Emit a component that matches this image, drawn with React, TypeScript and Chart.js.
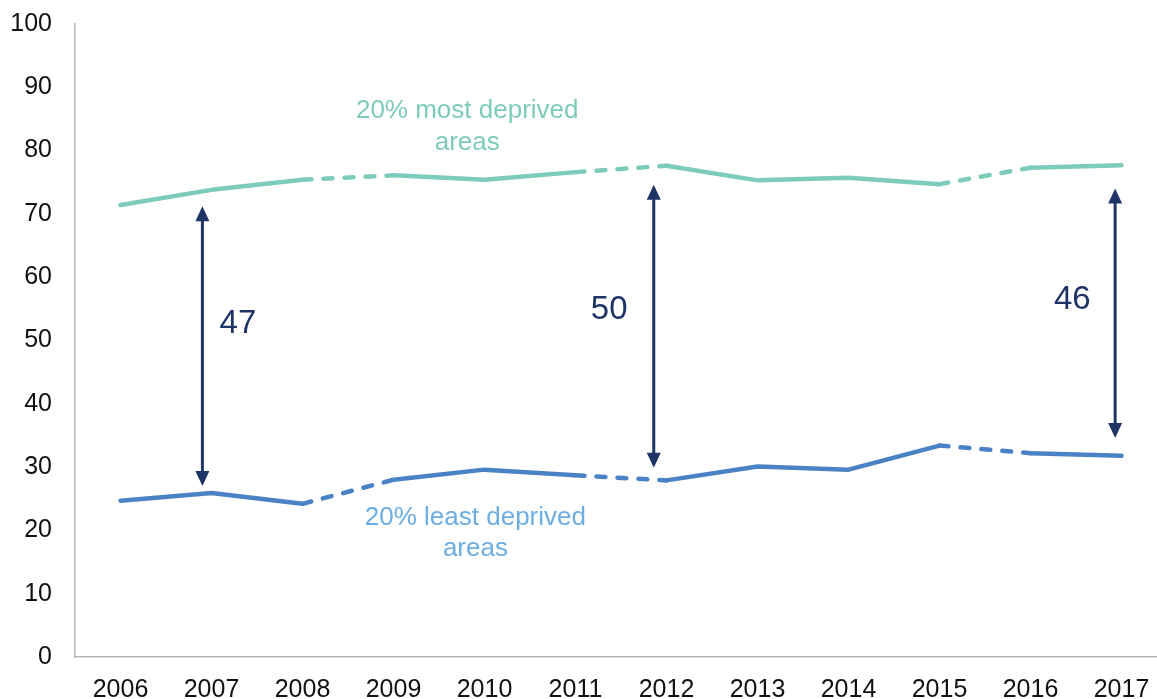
import React, { useEffect, useRef } from 'react';
import { Chart, registerables } from 'chart.js';

Chart.register(...registerables);

// ---- data ----
const years = [2006, 2007, 2008, 2009, 2010, 2011, 2012, 2013, 2014, 2015, 2016, 2017];
const mostDeprived = [71.4, 73.8, 75.4, 76.1, 75.4, 76.6, 77.6, 75.3, 75.7, 74.7, 77.3, 77.7];
const leastDeprived = [24.7, 25.9, 24.2, 28.0, 29.6, 28.7, 27.9, 30.1, 29.6, 33.4, 32.2, 31.8];
const dashedFromYears = [2008, 2011, 2015];
const yTickValues = [0, 10, 20, 30, 40, 50, 60, 70, 80, 90, 100];

const gapYears = [2006.9, 2011.86, 2016.93];
const gapTop = [71.2, 74.6, 74.0];
const gapBottom = [27.0, 29.9, 34.6];
const gapLabels = ['47', '50', '46'];
const gapLabelYears = [2007.29, 2011.37, 2016.46];
const gapLabelValues = [52.6, 54.9, 56.4];

const mostLabelLines = ['20% most deprived', 'areas'];
const mostLabelYear = 2009.81;
const mostLabelValues = [86.3, 81.2];
const leastLabelLines = ['20% least deprived', 'areas'];
const leastLabelYear = 2009.9;
const leastLabelValues = [22.0, 17.1];

const FONT = "'Liberation Sans', Arial, sans-serif";
const TEAL = '#7dcbbb';
const BLUE = '#4a83c5';
const NAVY = '#1f3466';
const TEAL_TEXT = '#7dcbbb';
const BLUE_TEXT = '#6cade2';

const annotationPlugin = {
  id: 'gapAnnotations',
  afterDatasetsDraw(chart: any) {
    const { ctx, scales } = chart;
    const x = scales.x;
    const y = scales.y;
    ctx.save();
    ctx.strokeStyle = NAVY;
    ctx.fillStyle = NAVY;
    ctx.lineWidth = 3;
    const headLen = 15;
    const headHalf = 7;
    gapYears.forEach((yr, i) => {
      const px = x.getPixelForValue(yr);
      const top = y.getPixelForValue(gapTop[i]);
      const bot = y.getPixelForValue(gapBottom[i]);
      ctx.beginPath();
      ctx.moveTo(px, top + headLen - 2);
      ctx.lineTo(px, bot - headLen + 2);
      ctx.stroke();
      ctx.beginPath();
      ctx.moveTo(px, top);
      ctx.lineTo(px - headHalf, top + headLen);
      ctx.lineTo(px + headHalf, top + headLen);
      ctx.closePath();
      ctx.fill();
      ctx.beginPath();
      ctx.moveTo(px, bot);
      ctx.lineTo(px - headHalf, bot - headLen);
      ctx.lineTo(px + headHalf, bot - headLen);
      ctx.closePath();
      ctx.fill();
    });
    ctx.font = `33px ${FONT}`;
    ctx.textAlign = 'center';
    ctx.textBaseline = 'middle';
    gapLabels.forEach((t, i) => {
      ctx.fillText(t, x.getPixelForValue(gapLabelYears[i]), y.getPixelForValue(gapLabelValues[i]));
    });
    ctx.font = `26px ${FONT}`;
    ctx.fillStyle = TEAL_TEXT;
    mostLabelLines.forEach((t, i) => {
      ctx.fillText(t, x.getPixelForValue(mostLabelYear), y.getPixelForValue(mostLabelValues[i]));
    });
    ctx.fillStyle = BLUE_TEXT;
    leastLabelLines.forEach((t, i) => {
      ctx.fillText(t, x.getPixelForValue(leastLabelYear), y.getPixelForValue(leastLabelValues[i]));
    });
    ctx.restore();
  },
};

const dashSegment = {
  borderDash: (c: any) => (dashedFromYears.includes(c.p0.parsed.x) ? [9, 12] : undefined),
};

export default function App() {
  const ref = useRef<HTMLCanvasElement | null>(null);
  useEffect(() => {
    if (!ref.current) return;
    const chart = new Chart(ref.current, {
      type: 'line',
      data: {
        datasets: [
          {
            label: '20% most deprived areas',
            data: years.map((yr, i) => ({ x: yr, y: mostDeprived[i] })),
            borderColor: TEAL,
            borderWidth: 4.5,
            borderCapStyle: 'round',
            borderJoinStyle: 'round',
            pointRadius: 0,
            fill: false,
            tension: 0,
            segment: dashSegment,
          },
          {
            label: '20% least deprived areas',
            data: years.map((yr, i) => ({ x: yr, y: leastDeprived[i] })),
            borderColor: BLUE,
            borderWidth: 4.5,
            borderCapStyle: 'round',
            borderJoinStyle: 'round',
            pointRadius: 0,
            fill: false,
            tension: 0,
            segment: dashSegment,
          },
        ],
      },
      options: {
        animation: false,
        responsive: false,
        layout: { padding: { top: 24, left: 0, right: 0, bottom: 0 } },
        plugins: { legend: { display: false }, tooltip: { enabled: false } },
        scales: {
          x: {
            type: 'linear',
            min: 2005.5,
            max: 2005.5 + (1157 - 75) / 91,
            afterBuildTicks: (scale: any) => {
              scale.ticks = years.map((v) => ({ value: v }));
            },
            afterFit: (scale: any) => {
              scale.height = 42;
              scale.paddingLeft = 0;
              scale.paddingRight = 0;
            },
            grid: { display: false, drawTicks: false },
            border: { display: true, color: '#b4b4b4', width: 1.5 },
            ticks: {
              color: '#111',
              font: { family: FONT, size: 25 },
              padding: 18,
              maxRotation: 0,
              autoSkip: false,
              callback: (v: any) => String(v),
            },
          },
          y: {
            type: 'linear',
            min: 0,
            max: 100,
            afterBuildTicks: (scale: any) => {
              scale.ticks = yTickValues.map((v) => ({ value: v }));
            },
            afterFit: (scale: any) => {
              scale.width = 75;
              scale.paddingTop = 0;
              scale.paddingBottom = 0;
            },
            grid: { display: false, drawTicks: false },
            border: { display: true, color: '#b4b4b4', width: 1.5 },
            ticks: {
              color: '#111',
              font: { family: FONT, size: 25 },
              padding: 23,
              callback: (v: any) => String(v),
            },
          },
        },
      },
      plugins: [annotationPlugin],
    } as any);
    return () => chart.destroy();
  }, []);
  return (
    <canvas
      ref={ref}
      width={1157}
      height={699}
      style={{ position: 'fixed', left: 0, top: 0, width: 1157, height: 699, display: 'block', background: '#fff' }}
    />
  );
}
